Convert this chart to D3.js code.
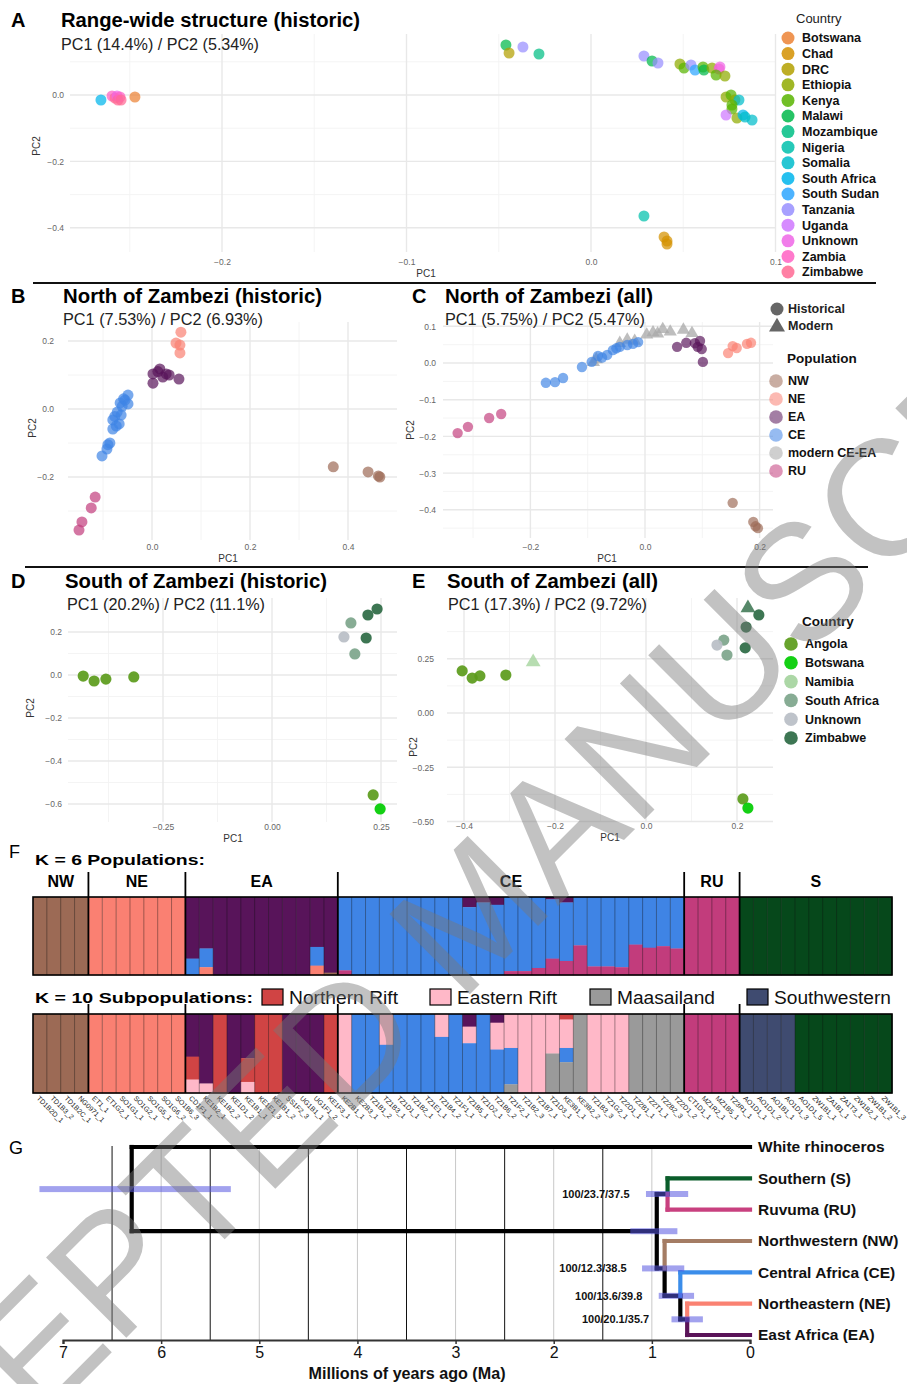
<!DOCTYPE html>
<html><head><meta charset="utf-8">
<script src="https://cdn.jsdelivr.net/npm/d3@7/dist/d3.min.js"></script>
<style>
html,body{margin:0;padding:0;background:#fff;}
text{font-family:"Liberation Sans",Arial,Helvetica,sans-serif;}
</style></head>
<body>
<svg id="fig" width="907" height="1384" xmlns="http://www.w3.org/2000/svg"></svg>
<script>
// ================= DATA =================
// ---- Panel A: range-wide PCA (historic) ----
const countriesA = ["Botswana","Chad","DRC","Ethiopia","Kenya","Malawi","Mozambique","Nigeria","Somalia","South Africa","South Sudan","Tanzania","Uganda","Unknown","Zambia","Zimbabwe"];
const aCountry = ["South Africa","Zambia","Zimbabwe","Unknown","Zimbabwe","Zambia","Zimbabwe","Botswana",
 "Malawi","Tanzania","DRC","Mozambique",
 "Tanzania","Malawi","Tanzania","Ethiopia","Kenya","Tanzania","South Sudan","Kenya","Malawi","Ethiopia","Zambia","Unknown","Kenya","Ethiopia",
 "Ethiopia","Kenya","Ethiopia","Somalia","Kenya","Kenya","Uganda","Ethiopia","South Africa","Somalia","Somalia",
 "Nigeria","Chad","Chad","Chad"];
const aPC1 = [-0.2656,-0.2596,-0.2580,-0.2569,-0.2564,-0.2553,-0.2547,-0.2472,
 -0.0461,-0.0369,-0.0444,-0.0282,
 0.0287,0.0331,0.0363,0.0482,0.0504,0.0542,0.0564,0.0607,0.0612,0.0656,0.0694,0.0699,0.0678,0.0726,
 0.0732,0.0759,0.0780,0.0802,0.0764,0.0764,0.0732,0.0791,0.0824,0.0835,0.0873,
 0.0287,0.0396,0.0412,0.0412];
const aPC2 = [-0.0151,-0.0030,-0.0090,-0.0030,-0.0151,-0.0060,-0.0151,-0.0060,
 0.1506,0.1446,0.1265,0.1235,
 0.1175,0.1024,0.0964,0.0934,0.0813,0.0904,0.0753,0.0843,0.0753,0.0813,0.0783,0.0843,0.0602,0.0572,
 -0.0060,0.0000,-0.0151,-0.0151,-0.0301,-0.0422,-0.0602,-0.0693,-0.0602,-0.0663,-0.0753,
 -0.3645,-0.4277,-0.4398,-0.4488];

// ---- Panel B: North of Zambezi (historic) ----
const bPop = ["NW","NW","NW","NW","NE","NE","NE","NE",
 "EA","EA","EA","EA","EA","EA","EA","EA",
 "CE","CE","CE","CE","CE","CE","CE","CE","CE","CE","CE","CE","CE","CE","CE","CE","CE",
 "RU","RU","RU","RU"];
const bPC1 = [0.370,0.441,0.462,0.465, 0.059,0.049,0.057,0.057,
 0.016,0.002,0.029,0.022,0.002,0.055,0.012,0.035,
 -0.049,-0.055,-0.065,-0.049,-0.058,-0.061,-0.071,-0.063,-0.076,-0.080,-0.067,-0.073,-0.080,-0.086,-0.092,-0.090,-0.102,
 -0.116,-0.124,-0.143,-0.149];
const bPC2 = [-0.170,-0.185,-0.197,-0.200, 0.226,0.194,0.188,0.165,
 0.118,0.103,0.103,0.094,0.076,0.088,0.110,0.100,
 0.041,0.026,0.018,0.015,0.030,0.008,-0.009,-0.018,-0.022,-0.032,-0.044,-0.050,-0.059,-0.100,-0.118,-0.105,-0.138,
 -0.259,-0.291,-0.332,-0.356];

// ---- Panel C: North of Zambezi (all) ----
const popsC = ["NW","NE","EA","CE","modern CE-EA","RU"];
const cPop = ["modern CE-EA","modern CE-EA","modern CE-EA","modern CE-EA","modern CE-EA","modern CE-EA","modern CE-EA","modern CE-EA","modern CE-EA","modern CE-EA","modern CE-EA","modern CE-EA",
 "NW","NW","NW","NW","NE","NE","NE","NE","NE",
 "EA","EA","EA","EA","EA","EA","EA",
 "CE","CE","CE","CE","CE","CE","CE","CE","CE","CE","CE","CE","CE","CE",
 "RU","RU","RU","RU"];
const cPeriod = ["Modern","Modern","Modern","Modern","Modern","Modern","Modern","Modern","Modern","Modern","Modern","Modern",
 "Historical","Historical","Historical","Historical","Historical","Historical","Historical","Historical","Historical",
 "Historical","Historical","Historical","Historical","Historical","Historical","Historical",
 "Historical","Historical","Historical","Historical","Historical","Historical","Historical","Historical","Historical","Historical","Historical","Historical","Historical","Historical",
 "Historical","Historical","Historical","Historical"];
const cPC1 = [-0.090,-0.085,-0.044,-0.031,-0.018,0.003,0.014,0.022,0.031,0.044,0.067,0.082,
 0.153,0.189,0.197,0.193, 0.145,0.153,0.160,0.178,0.185,
 0.056,0.072,0.087,0.096,0.092,0.099,0.101,
 -0.173,-0.157,-0.143,-0.110,-0.093,-0.082,-0.066,-0.056,-0.044,-0.031,-0.021,-0.012,-0.075,-0.050,
 -0.327,-0.309,-0.272,-0.251];
const cPC2 = [0.002,0.010,0.054,0.063,0.060,0.077,0.083,0.080,0.092,0.085,0.090,0.081,
 -0.381,-0.433,-0.450,-0.445, 0.027,0.046,0.041,0.052,0.055,
 0.044,0.055,0.054,0.060,0.044,0.038,0.003,
 -0.054,-0.052,-0.041,-0.011,0.003,0.019,0.022,0.035,0.044,0.049,0.052,0.057,0.015,0.040,
 -0.191,-0.174,-0.150,-0.139];

// ---- Panel D: South of Zambezi (historic) ----
const countriesS = ["Angola","Botswana","Namibia","South Africa","Unknown","Zimbabwe"];
const dCountry = ["Angola","Angola","Angola","Angola","Angola","Botswana","Zimbabwe","Zimbabwe","Zimbabwe","South Africa","South Africa","Unknown"];
const dPC1 = [-0.433,-0.408,-0.381,-0.317,0.232,0.248,0.241,0.220,0.216,0.181,0.190,0.165];
const dPC2 = [-0.005,-0.028,-0.019,-0.009,-0.558,-0.623,0.307,0.279,0.172,0.242,0.098,0.177];

// ---- Panel E: South of Zambezi (all) ----
const eCountry = ["Angola","Angola","Angola","Angola","Angola","Botswana","Namibia","Zimbabwe","Zimbabwe","Zimbabwe","Zimbabwe","South Africa","South Africa","Unknown"];
const ePeriod = ["Historical","Historical","Historical","Historical","Historical","Historical","Modern","Modern","Historical","Historical","Historical","Historical","Historical","Historical"];
const ePC1 = [-0.404,-0.382,-0.365,-0.308,0.213,0.224,-0.248,0.224,0.248,0.220,0.218,0.171,0.178,0.156];
const ePC2 = [0.194,0.161,0.171,0.175,-0.396,-0.438,0.235,0.484,0.452,0.396,0.300,0.336,0.267,0.313];

// ---- Panel F: ADMIXTURE ----
const groupsF = ["NW","NE","EA","CE","RU","S"];
const groupSizes = [4,7,11,25,4,11];
const sampleIds = ["TD1B2D_1","TD1B3_2","TD1B2C_1","NG0971_1",
 "ET1_1","ET1G2_1","SO1G1_1","SO1G2_1","SO1G5_1","SO1G6_2","SO1B6_3",
 "CD1F1_1","KE1B2_1","KE1B2_2","KE1D1_2","KE1B1_1","KE1E1_3","KE1B1_2","SS1F2_3","UG1B1_1","UG1F1_2","KE1F3_1",
 "KE2B1_1","KE2B3_1","TZ1B1_2","TZ1B3_1","TZ1D1_1","TZ1B2_1","TZ1E1_1","TZ1B4_2","TZ1F1_1","TZ1B5_1","TZ1D2_1","TZ1B6_2","TZ1F2_1","TZ1B2_3","TZ1B7_1","TZ1D3_1","KE3B1_1","KE3B2_2","TZ1B3_3","TZ1G2_1","TZ2D1_1","TZ2B1_1","TZ2T1_1","TZ2B2_3","TZ2D1_2",
 "CT1D1_1","MZ1R2_1","MZ1B5_1","TZ3R1_1",
 "AO1D1_1","AO1D1_2","AO1B1_1","AO1D1_3","AO1D1_5","ZW1B1_1","ZA1B1_1","ZA1T3_1","ZW1B2_1","ZW1B1_2","ZW1B1_3"];
// cluster:fraction, listed top to bottom
const k6Ancestry = ["NW","NW","NW","NW",
 "NE","NE","NE","NE","NE","NE","NE",
 "EA:.79,CE:.21","EA:.66,CE:.24,NE:.10","EA","EA","EA","EA","EA","EA","EA","EA:.64,CE:.24,NE:.12","EA:.97,NW:.03",
 "CE:.94,RU:.06","CE","CE","CE","CE","CE","CE","CE","CE","EA:.13,CE:.87","EA:.07,CE:.93","EA:.10,CE:.90",
 "CE:.95,RU:.05","CE:.95,RU:.05","CE:.91,RU:.09","EA:.03,CE:.76,RU:.21","EA:.07,CE:.75,RU:.18","CE:.62,RU:.38",
 "CE:.89,RU:.11","CE:.89,RU:.11","CE:.90,RU:.10","CE:.61,RU:.39","CE:.65,RU:.35","CE:.63,RU:.37","CE:.66,RU:.34",
 "RU","RU","RU","RU",
 "S","S","S","S","S","S","S","S","S","S","S"];
const k10Ancestry = ["NW","NW","NW","NW",
 "NE","NE","NE","NE","NE","NE","NE",
 "EA:.54,NR:.29,ER:.17","EA:.88,ER:.12","NR","EA","EA:.56,NR:.30,ER:.14","NR","NR","EA","EA","EA","NR",
 "ER","CE","CE","ER:.39,CE:.61","CE","CE","CE","ER:.29,CE:.71","CE","EA:.16,ER:.21,CE:.63","CE","EA:.11,ER:.34,CE:.55","ER:.43,CE:.46,MA:.11",
 "ER","ER","ER:.5,MA:.5","NR:.07,ER:.36,CE:.18,MA:.39","MA","ER","ER","ER","MA","MA","MA","MA",
 "RU","RU","RU","RU",
 "SW","SW","SW","SW","S","S","S","S","S","S","S"];
const k10LegendKeys = ["NR","ER","MA","SW"];
const k10LegendNames = ["Northern Rift","Eastern Rift","Maasailand","Southwestern"];

// ---- Panel G: dated tree ----
const tipNames = ["White rhinoceros","Southern (S)","Ruvuma (RU)","Northwestern (NW)","Central Africa (CE)","Northeastern (NE)","East Africa (EA)"];
const nodeNames = ["root","ingroup","S+RU","NW+others","CE+others","NE+EA"];
const nodeAges = [6.3,0.95,0.84,0.87,0.71,0.64];
const nodeKids = [["White rhinoceros","ingroup"],["S+RU","NW+others"],["Southern (S)","Ruvuma (RU)"],["Northwestern (NW)","CE+others"],["Central Africa (CE)","NE+EA"],["Northeastern (NE)","East Africa (EA)"]];
const hpdLow = [5.29,0.74,0.63,0.67,0.57,0.48];
const hpdHigh = [7.24,1.22,1.06,1.10,0.93,0.80];
const nodeSupport = ["","","100/23.7/37.5","100/12.3/38.5","100/13.6/39.8","100/20.1/35.7"];
const timeTicks = [7,6,5,4,3,2,1,0];

// ================= STYLES =================
const colA = {"Botswana":"#EC8235","Chad":"#D49100","DRC":"#B3A000","Ethiopia":"#8FAA00","Kenya":"#58B400","Malawi":"#00B94A","Mozambique":"#00BE84","Nigeria":"#00C0AC","Somalia":"#00BCCB","South Africa":"#00B5EC","South Sudan":"#2EA6FF","Tanzania":"#988FFF","Uganda":"#CF78FF","Unknown":"#EE66E6","Zambia":"#FF61C3","Zimbabwe":"#FF6A94"};
const colPop = {"NW":"#9C6A55","NE":"#FA8072","EA":"#58145A","CE":"#3F84E5","modern CE-EA":"#A8A8A8","RU":"#C23C7C"};
const colS = {"Angola":"#5B9B1B","Botswana":"#00CC00","Namibia":"#A5D49E","South Africa":"#7DA58B","Unknown":"#B9BEC6","Zimbabwe":"#2C6A44"};
const colK = {"NW":"#9C6A55","NE":"#FA8072","EA":"#58145A","CE":"#3F84E5","RU":"#C23C7C","S":"#06481B","NR":"#D04444","ER":"#FFB8C8","MA":"#9A9A9A","SW":"#3F4B70"};
const colTip = {"White rhinoceros":"#000","Southern (S)":"#0B5D2B","Ruvuma (RU)":"#C8407F","Northwestern (NW)":"#A47C64","Central Africa (CE)":"#3B8DEA","Northeastern (NE)":"#FA8272","East Africa (EA)":"#5A1458"};

const svg = d3.select('#fig');
const FONT = '"Liberation Sans",Arial,Helvetica,sans-serif';

function txt(g, x, y, s, o = {}) {
  const t = g.append('text').attr('x', x).attr('y', y).text(s)
    .attr('font-size', o.size || 12).attr('font-weight', o.weight || 'normal')
    .attr('fill', o.fill || '#000').attr('text-anchor', o.anchor || 'start');
  if (o.len) t.attr('textLength', o.len).attr('lengthAdjust', 'spacingAndGlyphs');
  if (o.dy) t.attr('dy', o.dy);
  if (o.rotate != null) t.attr('transform', `rotate(${o.rotate},${x},${y})`);
  return t;
}

function pcaPanel(o) {
  const g = svg.append('g');
  const x = d3.scaleLinear().domain(o.xdom).range([o.l, o.r]);
  const y = d3.scaleLinear().domain(o.ydom).range([o.b, o.t]);
  const grid = (vals, vert, col, w) => g.append('g').selectAll('line').data(vals).join('line')
    .attr('x1', d => vert ? x(d) : o.l).attr('x2', d => vert ? x(d) : o.r)
    .attr('y1', d => vert ? o.t : y(d)).attr('y2', d => vert ? o.b : y(d))
    .attr('stroke', col).attr('stroke-width', w);
  grid(o.xminor, true, '#F3F3F3', 0.9); grid(o.yminor, false, '#F3F3F3', 0.9);
  grid(o.xmajor, true, '#E8E8E8', 1.4); grid(o.ymajor, false, '#E8E8E8', 1.4);
  const ax = g.append('g').attr('transform', `translate(0,${o.xLabY})`)
    .call(d3.axisBottom(x).tickValues(o.xmajor).tickFormat(d3.format(o.xfmt)).tickSize(0).tickPadding(0));
  const ay = g.append('g').attr('transform', `translate(${o.yLabX},0)`)
    .call(d3.axisLeft(y).tickValues(o.ymajor).tickFormat(d3.format(o.yfmt)).tickSize(0).tickPadding(0));
  [ax, ay].forEach(a => {
    a.select('.domain').remove();
    a.attr('font-family', FONT).attr('font-size', 8.5);
    a.selectAll('text').attr('fill', '#666').attr('dy', '0.35em');
  });
  txt(g, o.xTitle[0], o.xTitle[1], 'PC1', {size: 10, fill: '#333', anchor: 'middle', dy: '0.35em'});
  txt(g, o.yTitle[0], o.yTitle[1], 'PC2', {size: 10, fill: '#333', anchor: 'middle', dy: '0.35em', rotate: -90});
  g.append('g').selectAll('path').data(o.pts).join('path')
    .attr('d', d => d3.symbol(d.tri ? d3.symbolTriangle : d3.symbolCircle, d.tri ? o.triSize : Math.PI * o.rad * o.rad)())
    .attr('transform', d => `translate(${x(d.x)},${y(d.y)})`)
    .attr('fill', d => d.color).attr('fill-opacity', d => d.tri ? (o.triAlpha || o.alpha) : o.alpha);
  txt(g, o.letter[0], o.letter[1], o.letter[2], {size: 20, weight: 'bold'});
  txt(g, o.title[0], o.title[1], o.title[2], {size: 20, weight: 'bold', len: o.title[3]});
  txt(g, o.sub[0], o.sub[1], o.sub[2], {size: 16, fill: '#222', len: o.sub[3]});
  return g;
}

// ---------- Panel A ----------
pcaPanel({
  l: 70, r: 776, t: 34, b: 252,
  xdom: [(70 - 591) / 1845, (776 - 591) / 1845], ydom: [(95 - 252) / 332, (95 - 34) / 332],
  xmajor: [-0.2, -0.1, 0, 0.1], xminor: [-0.25, -0.15, -0.05, 0.05],
  ymajor: [0, -0.2, -0.4], yminor: [0.1, -0.1, -0.3],
  xfmt: '.1f', yfmt: '.1f', xLabY: 262, yLabX: 64,
  xTitle: [426, 273], yTitle: [36, 146],
  rad: 5.5, alpha: 0.72,
  pts: aPC1.map((v, i) => ({x: v, y: aPC2[i], color: colA[aCountry[i]]})),
  letter: [11, 27, 'A'], title: [61, 27, 'Range-wide structure (historic)', 299], sub: [61, 50, 'PC1 (14.4%) / PC2 (5.34%)', 198]
});
{
  const g = svg.append('g');
  txt(g, 796, 23, 'Country', {size: 13, fill: '#222'});
  countriesA.forEach((c, i) => {
    const yy = 38 + i * 15.6;
    g.append('circle').attr('cx', 788).attr('cy', yy).attr('r', 6.5).attr('fill', colA[c]).attr('fill-opacity', 0.85);
    txt(g, 802, yy, c, {size: 12.5, weight: 'bold', dy: '0.35em', fill: '#111'});
  });
}
svg.append('line').attr('x1', 33).attr('x2', 876).attr('y1', 283).attr('y2', 283).attr('stroke', '#111').attr('stroke-width', 2.2);
svg.append('line').attr('x1', 25).attr('x2', 868).attr('y1', 567).attr('y2', 567).attr('stroke', '#111').attr('stroke-width', 2.2);

// ---------- Panel B ----------
pcaPanel({
  l: 68, r: 397, t: 322, b: 540,
  xdom: [(68 - 152) / 490, (397 - 152) / 490], ydom: [(409 - 540) / 340, (409 - 322) / 340],
  xmajor: [0, 0.2, 0.4], xminor: [-0.1, 0.1, 0.3],
  ymajor: [0.2, 0, -0.2], yminor: [0.1, -0.1, -0.3],
  xfmt: '.1f', yfmt: '.1f', xLabY: 547, yLabX: 54,
  xTitle: [228, 558], yTitle: [32, 428],
  rad: 5.5, alpha: 0.7,
  pts: bPC1.map((v, i) => ({x: v, y: bPC2[i], color: colPop[bPop[i]]})),
  letter: [11, 303, 'B'], title: [63, 303, 'North of Zambezi (historic)', 259], sub: [63, 325, 'PC1 (7.53%) / PC2 (6.93%)', 200]
});

// ---------- Panel C ----------
pcaPanel({
  l: 443, r: 773, t: 322, b: 538,
  xdom: [(443 - 645) / 573, (773 - 645) / 573], ydom: [(363 - 538) / 367, (363 - 322) / 367],
  xmajor: [-0.2, 0, 0.2], xminor: [-0.3, -0.1, 0.1],
  ymajor: [0.1, 0, -0.1, -0.2, -0.3, -0.4], yminor: [0.05, -0.05, -0.15, -0.25, -0.35, -0.45],
  xfmt: '.1f', yfmt: '.1f', xLabY: 547, yLabX: 436,
  xTitle: [607, 558], yTitle: [410, 430],
  rad: 5.2, alpha: 0.68, triSize: 75, triAlpha: 0.75,
  pts: cPC1.map((v, i) => ({x: v, y: cPC2[i], color: colPop[cPop[i]], tri: cPeriod[i] === 'Modern'})),
  letter: [412, 303, 'C'], title: [445, 303, 'North of Zambezi (all)', 208], sub: [445, 325, 'PC1 (5.75%) / PC2 (5.47%)', 200]
});
{
  const g = svg.append('g');
  g.append('circle').attr('cx', 777).attr('cy', 309).attr('r', 6.5).attr('fill', '#666');
  txt(g, 788, 309, 'Historical', {size: 12.5, weight: 'bold', dy: '0.35em', fill: '#222'});
  g.append('path').attr('d', d3.symbol(d3.symbolTriangle, 110)()).attr('transform', 'translate(777,327)').attr('fill', '#666');
  txt(g, 788, 326, 'Modern', {size: 12.5, weight: 'bold', dy: '0.35em', fill: '#222'});
  txt(g, 787, 363, 'Population', {size: 13.5, weight: 'bold', fill: '#111'});
  popsC.forEach((p, i) => {
    const yy = 381 + i * 18;
    g.append('circle').attr('cx', 776).attr('cy', yy).attr('r', 6.8).attr('fill', colPop[p]).attr('fill-opacity', 0.55);
    txt(g, 788, yy, p, {size: 12.5, weight: 'bold', dy: '0.35em', fill: '#111'});
  });
}

// ---------- Panel D ----------
pcaPanel({
  l: 68, r: 397, t: 598, b: 822,
  xdom: [(68 - 272) / 436, (397 - 272) / 436], ydom: [(675 - 822) / 215, (675 - 598) / 215],
  xmajor: [-0.25, 0, 0.25], xminor: [-0.375, -0.125, 0.125],
  ymajor: [0.2, 0, -0.2, -0.4, -0.6], yminor: [0.1, -0.1, -0.3, -0.5],
  xfmt: '.2f', yfmt: '.1f', xLabY: 827, yLabX: 62,
  xTitle: [233, 838], yTitle: [30, 708],
  rad: 5.6, alpha: 0.92,
  pts: dPC1.map((v, i) => ({x: v, y: dPC2[i], color: colS[dCountry[i]]})),
  letter: [11, 588, 'D'], title: [65, 588, 'South of Zambezi (historic)', 262], sub: [67, 610, 'PC1 (20.2%) / PC2 (11.1%)', 198]
});

// ---------- Panel E ----------
pcaPanel({
  l: 447, r: 773, t: 598, b: 822,
  xdom: [(447 - 646) / 455, (773 - 646) / 455], ydom: [(713 - 822) / 217, (713 - 598) / 217],
  xmajor: [-0.4, -0.2, 0, 0.2], xminor: [-0.3, -0.1, 0.1],
  ymajor: [0.25, 0, -0.25, -0.5], yminor: [0.375, 0.125, -0.125, -0.375],
  xfmt: '.1f', yfmt: '.2f', xLabY: 826, yLabX: 434,
  xTitle: [610, 837], yTitle: [413, 747],
  rad: 5.6, alpha: 0.92, triSize: 95, triAlpha: 0.8,
  pts: ePC1.map((v, i) => ({x: v, y: ePC2[i], color: colS[eCountry[i]], tri: ePeriod[i] === 'Modern'})),
  letter: [412, 588, 'E'], title: [447, 588, 'South of Zambezi (all)', 211], sub: [448, 610, 'PC1 (17.3%) / PC2 (9.72%)', 199]
});
{
  const g = svg.append('g');
  txt(g, 802, 626, 'Country', {size: 13.5, weight: 'bold', fill: '#111'});
  countriesS.forEach((c, i) => {
    const yy = 644 + i * 18.8;
    g.append('circle').attr('cx', 791).attr('cy', yy).attr('r', 6.8).attr('fill', colS[c]).attr('fill-opacity', 0.92);
    txt(g, 805, yy, c, {size: 12.5, weight: 'bold', dy: '0.35em', fill: '#111'});
  });
}

// ---------- Panel F ----------
function parseAnc(s) {
  const parts = s.split(',').map(p => { const [k, f] = p.split(':'); return [k, f === undefined ? 1 : +f]; });
  const tot = d3.sum(parts, p => p[1]);
  return parts.map(p => [p[0], p[1] / tot]);
}
const xb = d3.scaleBand().domain(d3.range(sampleIds.length)).range([33, 892]);
const groupEnds = d3.cumsum(groupSizes);
function structureBar(data, top, bottom, tickTop) {
  const g = svg.append('g');
  const yb = d3.scaleLinear().domain([0, 1]).range([top, bottom]);
  data.forEach((s, i) => {
    let acc = 0;
    parseAnc(s).forEach(([k, f]) => {
      g.append('rect').attr('x', xb(i)).attr('width', xb.bandwidth() + 0.4)
        .attr('y', yb(acc)).attr('height', yb(acc + f) - yb(acc) + 0.3).attr('fill', colK[k]);
      acc += f;
    });
  });
  g.selectAll('line.sep').data(d3.range(1, sampleIds.length)).join('line')
    .attr('x1', d => xb(d)).attr('x2', d => xb(d)).attr('y1', top).attr('y2', bottom)
    .attr('stroke', '#111').attr('stroke-width', 0.7).attr('stroke-opacity', 0.55);
  g.selectAll('line.grp').data(groupEnds.slice(0, -1)).join('line')
    .attr('x1', d => xb(d)).attr('x2', d => xb(d)).attr('y1', tickTop).attr('y2', bottom)
    .attr('stroke', '#000').attr('stroke-width', 1.8);
  g.append('rect').attr('x', 33).attr('y', top).attr('width', 859).attr('height', bottom - top)
    .attr('fill', 'none').attr('stroke', '#000').attr('stroke-width', 1.6);
  return g;
}
{
  const g = svg.append('g');
  txt(g, 9, 858, 'F', {size: 18});
  txt(g, 35, 865, 'K = 6  Populations:', {size: 15, weight: 'bold', len: 170});
  structureBar(k6Ancestry, 897, 975, 872);
  groupsF.forEach((p, i) => {
    const s = i === 0 ? 0 : groupEnds[i - 1];
    const cx = (xb(s) + xb(groupEnds[i] - 1) + xb.bandwidth()) / 2;
    txt(g, cx, 887, p, {size: 16, weight: 'bold', anchor: 'middle'});
  });
  txt(g, 35, 1003, 'K = 10  Subpopulations:', {size: 15, weight: 'bold', len: 218});
  const legX = [262, 430, 590, 747], legW = [109, 100, 98, 117];
  k10LegendKeys.forEach((k, i) => {
    g.append('rect').attr('x', legX[i]).attr('y', 989).attr('width', 21).attr('height', 16)
      .attr('fill', colK[k]).attr('stroke', '#000').attr('stroke-width', 1.2);
    txt(g, legX[i] + 27, 1004, k10LegendNames[i], {size: 17.5, fill: '#111', len: legW[i]});
  });
  structureBar(k10Ancestry, 1014, 1093, 1004);
  g.append('g').selectAll('text').data(sampleIds).join('text')
    .attr('transform', (d, i) => `translate(${xb(i) + xb.bandwidth() / 2 - 2},1097) rotate(45)`)
    .attr('font-size', 7).attr('fill', '#222').attr('dy', '0.35em').text(d => d);
}

// ---------- Panel G ----------
{
  const g = svg.append('g');
  const tx = d3.scaleLinear().domain([7, 0]).range([63, 750]);
  const ty = d3.scalePoint().domain(tipNames).range([1147, 1335]);
  const TOP = 1146, AX = 1340;
  txt(g, 9, 1154, 'G', {size: 18});
  g.append('g').selectAll('line').data([6, 5, 4, 3, 2, 1]).join('line')
    .attr('x1', d => tx(d)).attr('x2', d => tx(d)).attr('y1', TOP).attr('y2', AX)
    .attr('stroke', '#C8C8C8').attr('stroke-width', 1);
  g.append('g').selectAll('line').data([6.5, 5.5, 4.5, 3.5, 2.5, 1.5]).join('line')
    .attr('x1', d => tx(d)).attr('x2', d => tx(d)).attr('y1', TOP).attr('y2', AX)
    .attr('stroke', '#111').attr('stroke-width', 1);
  const pos = {};
  tipNames.forEach(t => pos[t] = {x: tx(0), y: ty(t), age: 0});
  const idx = {}; nodeNames.forEach((n, i) => idx[n] = i);
  function place(n) {
    if (pos[n]) return pos[n];
    const i = idx[n];
    const ys = nodeKids[i].map(k => place(k).y);
    pos[n] = {x: tx(nodeAges[i]), y: d3.mean(ys), age: nodeAges[i]};
    return pos[n];
  }
  place('root');
  const colOf = n => colTip[n] || '#000';
  const br = g.append('g').attr('stroke-width', 4.2).attr('stroke-linecap', 'square').attr('fill', 'none');
  const segs = [];
  nodeNames.forEach((n, i) => {
    const p = pos[n];
    nodeKids[i].forEach(k => {
      const c = pos[k];
      segs.push({x1: p.x, y1: p.y, x2: p.x, y2: c.y, col: colOf(k)});
      segs.push({x1: p.x, y1: c.y, x2: c.x, y2: c.y, col: colOf(k)});
    });
  });
  segs.sort((a, b) => (a.col === '#000' ? 0 : 1) - (b.col === '#000' ? 0 : 1));
  br.selectAll('line').data(segs).join('line')
    .attr('x1', d => d.x1).attr('y1', d => d.y1).attr('x2', d => d.x2).attr('y2', d => d.y2)
    .attr('stroke', d => d.col);
  g.append('g').selectAll('rect').data(nodeNames).join('rect')
    .attr('x', (n, i) => tx(hpdHigh[i])).attr('width', (n, i) => tx(hpdLow[i]) - tx(hpdHigh[i]))
    .attr('y', n => pos[n].y - 3).attr('height', 6)
    .attr('fill', '#5555E0').attr('fill-opacity', 0.55);
  nodeNames.forEach((n, i) => {
    if (nodeSupport[i]) txt(g, pos[n].x - 38, pos[n].y, nodeSupport[i], {size: 11, weight: 'bold', anchor: 'end', dy: '0.35em', fill: '#111'});
  });
  tipNames.forEach(t => txt(g, 758, ty(t), t, {size: 15.5, weight: 'bold', dy: '0.35em', fill: '#111'}));
  const ax = g.append('g').attr('transform', `translate(0,${AX})`)
    .call(d3.axisBottom(tx).tickValues(timeTicks).tickFormat(d3.format('d')).tickSize(4).tickPadding(3));
  ax.attr('font-family', FONT).attr('font-size', 16);
  ax.select('.domain').attr('stroke', '#333').attr('stroke-width', 2.2);
  ax.selectAll('.tick line').attr('stroke', '#333').attr('stroke-width', 1.5);
  ax.selectAll('text').attr('fill', '#111');
  txt(g, 407, 1379, 'Millions of years ago (Ma)', {size: 16, weight: 'bold', anchor: 'middle', len: 197, fill: '#111'});
}

// ---------- watermark ----------
{
  const fs = 165;
  const wm = svg.append('g').attr('transform', 'translate(775,612) rotate(-45)').attr('pointer-events', 'none');
  wm.append('text').attr('x', -8.75 * fs).attr('y', 0.33 * fs).text('ACCEPTED MANUSCRIPT')
    .attr('font-family', '"Liberation Serif","Times New Roman",serif').attr('font-size', fs)
    .attr('fill', '#777').attr('fill-opacity', 0.45);
}
</script>
</body></html>
